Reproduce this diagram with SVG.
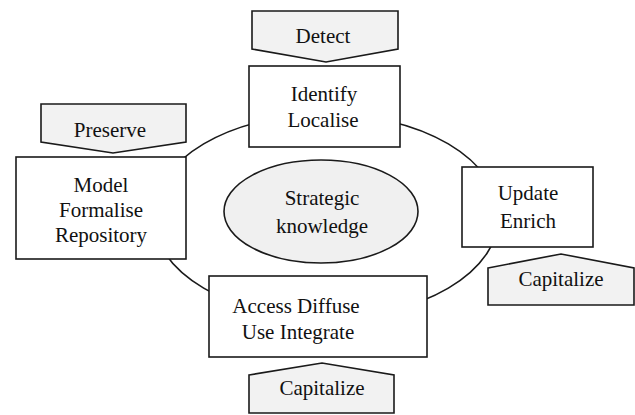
<svg xmlns="http://www.w3.org/2000/svg" width="635" height="415" viewBox="0 0 635 415">
<style>
.box{fill:#ffffff;stroke:#1a1a1a;stroke-width:1.6}
.tag{fill:#f2f2f2;stroke:#1a1a1a;stroke-width:1.6;stroke-linejoin:miter}
.ring{fill:none;stroke:#1a1a1a;stroke-width:1.6}
.core{fill:#f0f0f0;stroke:#1a1a1a;stroke-width:1.6}
text{font-family:"Liberation Serif","Times New Roman",Tinos,"DejaVu Serif",serif;font-size:21px;fill:#111111;text-anchor:middle}
</style>
<rect width="635" height="415" fill="#ffffff"/>
<g id="connectors">
<ellipse class="ring" cx="326" cy="216" rx="173" ry="102"/>
</g>
<g id="identify">
<rect class="box" x="249" y="66" width="151" height="81"/>
<text x="324" y="101">Identify</text>
<text x="323" y="127">Localise</text>
</g>
<g id="detect">
<polygon class="tag" points="252,11 398,11 398,49 326,62 252,49"/>
<text x="323" y="43">Detect</text>
</g>
<g id="model">
<rect class="box" x="16" y="157" width="170" height="102"/>
<text x="101" y="192">Model</text>
<text x="101" y="217">Formalise</text>
<text x="101" y="242">Repository</text>
</g>
<g id="preserve">
<polygon class="tag" points="41,104 186,104 186,142 113,153 41,142"/>
<text x="110" y="137">Preserve</text>
</g>
<g id="update">
<rect class="box" x="462" y="167" width="131" height="80"/>
<text x="528" y="200">Update</text>
<text x="528" y="228">Enrich</text>
</g>
<g id="capitalize-right">
<polygon class="tag" points="488,268 561,254 634,268 634,305 488,305"/>
<text x="561" y="286">Capitalize</text>
</g>
<g id="strategic">
<ellipse class="core" cx="321" cy="211.5" rx="97" ry="51.5"/>
<text x="322" y="205">Strategic</text>
<text x="322" y="233">knowledge</text>
</g>
<g id="access">
<rect class="box" x="209" y="276" width="218" height="81"/>
<text x="296" y="313">Access Diffuse</text>
<text x="298" y="339">Use Integrate</text>
</g>
<g id="capitalize-bottom">
<polygon class="tag" points="249,375 322,363 394,375 394,413 249,413"/>
<text x="322" y="395">Capitalize</text>
</g>
</svg>
